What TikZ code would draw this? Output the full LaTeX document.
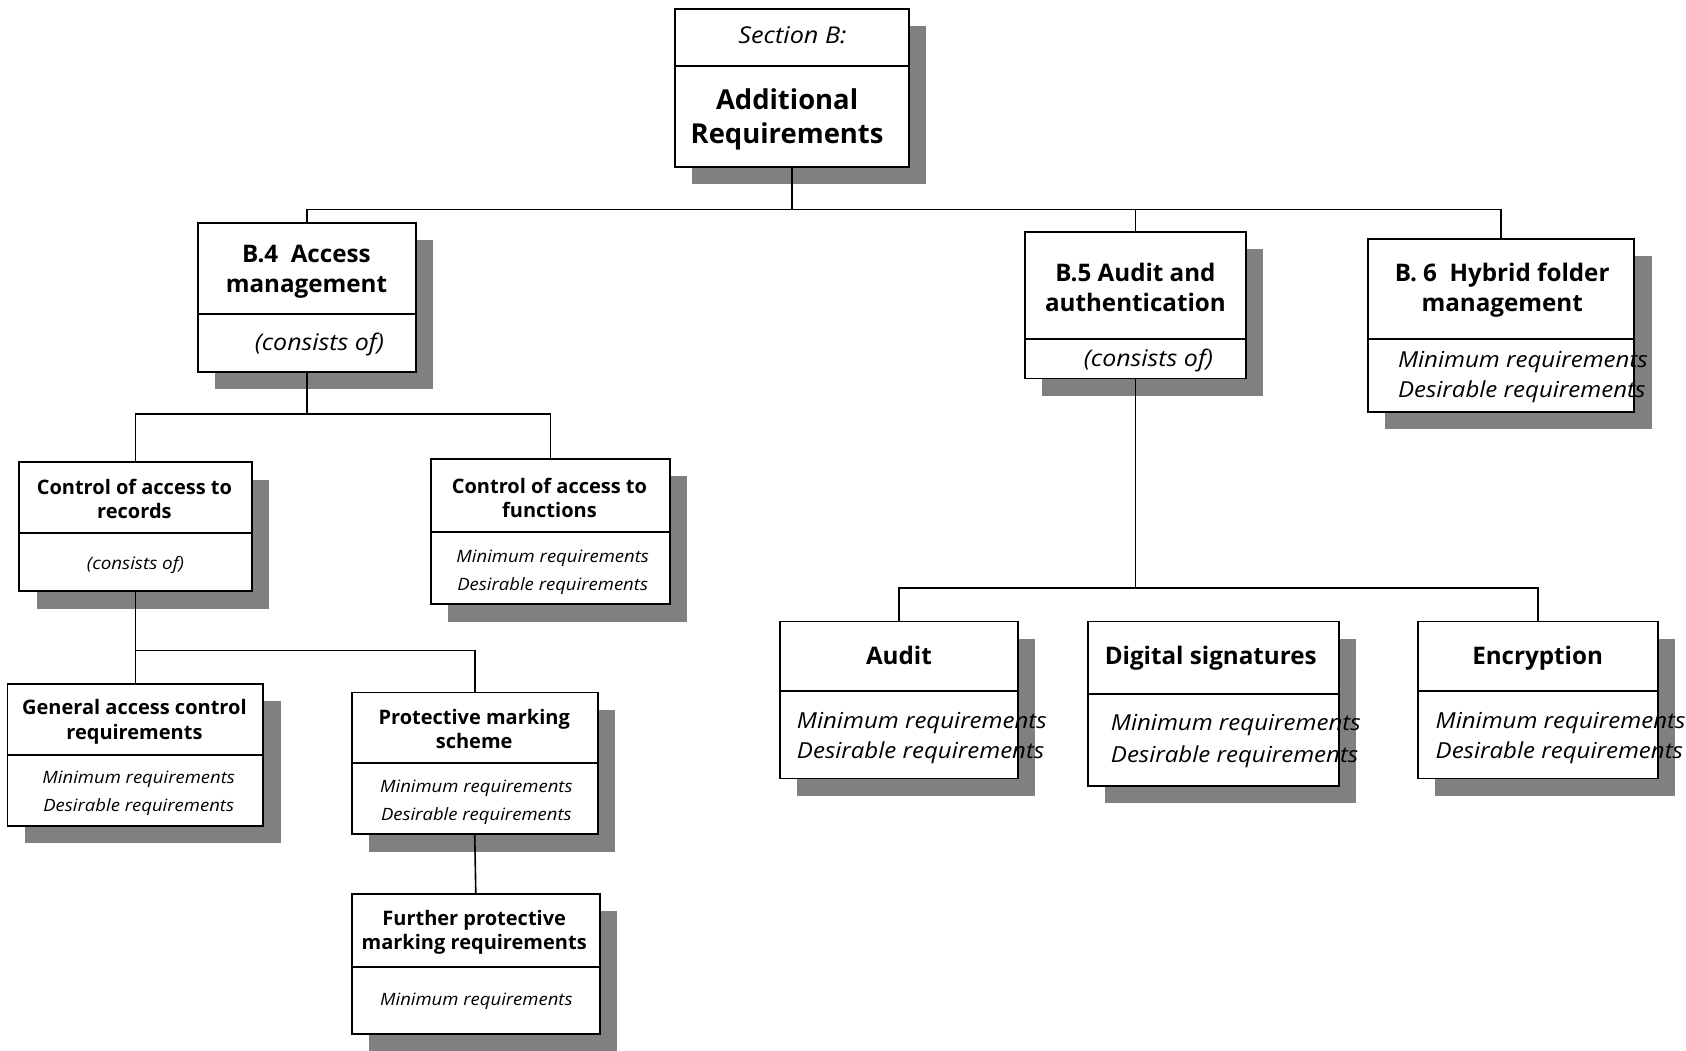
\documentclass[tikz,border=0pt]{standalone}
\usepackage{fontspec}
\setmainfont{Open Sans}[ItalicFeatures={FakeStretch=1.09}]
\usetikzlibrary{shadows}
\definecolor{shade}{RGB}{128,128,128}
\newcommand\fsz[2]{\fontsize{#1}{#2}\selectfont}
% box with a horizontal rule: name, x1, y1, x2, y2, y of the rule
\newcommand\rbox[6]{%
  \node[rbox, minimum width={#4-#2}, minimum height={#5-#3}] (#1) at ({(#2+#4)/2},{(#3+#5)/2}) {};
  \draw[rule] (#2,#6) -- (#4,#6);}
\begin{document}
\begin{tikzpicture}[x=1pt,y=-1pt,
  rbox/.style={draw, fill=white, line width=1.8pt, inner sep=0pt, outer sep=0pt,
    drop shadow={shadow xshift=16pt, shadow yshift=-16pt, fill=shade, opacity=1}},
  rule/.style={line width=1.8pt},
  conn/.style={line width=1.5pt},
  txt/.style={inner sep=0pt, align=center},
  one/.style={inner sep=0pt, text height=0.75em, text depth=0.22em},
  bigt/.style={txt, font=\bfseries\fsz{22.5}{28}},
  smallt/.style={txt, font=\bfseries\fsz{18.6}{23}},
  bigi/.style={txt, align=left, font=\itshape\fsz{20.5}{28}},
  smalli/.style={txt, font=\itshape\fsz{15.8}{26}}
]
\useasboundingbox (0,0) rectangle (1568,977);

% boxes
\rbox{top}{628}{8}{845}{155}{61}
\rbox{b4}{184}{207}{387}{346}{292}
\rbox{b5}{953}{216}{1159}{352}{315}
\rbox{b6}{1272}{222}{1520}{383}{315}
\rbox{car}{18}{430}{234}{550}{496}
\rbox{caf}{401}{427}{623}{562}{495}
\rbox{gac}{7}{636}{245}{768}{702}
\rbox{pms}{327}{644}{556}{776}{710}
\rbox{fpm}{327}{831}{558}{962}{899}
\rbox{aud}{725}{578}{947}{724}{643}
\rbox{dig}{1012}{578}{1245}{731}{645}
\rbox{enc}{1319}{578}{1542}{724}{643}

% top box
\node[one, font=\itshape\fsz{21.5}{26}] (topa) at (737,38) {Section B:};
\node[txt, font=\bfseries\fsz{25.5}{32}] (topb) at (732,111) {Additional\\Requirements};

% section boxes
\node[bigt] (b4a) at (285,253) {B.4\ \ Access\\management};
\node[one, font=\itshape\fsz{21.3}{26}] (b4b) at (297,323) {(consists of)};
\node[bigt] (b5a) at (1056,267) {B.5 Audit and\\authentication};
\node[one, font=\itshape\fsz{21.3}{26}] (b5b) at (1068,338) {(consists of)};
\node[bigt] (b6a) at (1397,270) {B. 6\ \ Hybrid folder\\management};
\node[bigi, anchor=west] (b6b) at (1300,351) {Minimum requirements\\Desirable requirements};

% access management parts
\node[smallt] (cara) at (125,464) {Control of access to\\records};
\node[one, font=\itshape\fsz{16}{20}] (carb) at (126,527) {(consists of)};
\node[smallt] (cafa) at (511,463) {Control of access to\\functions};
\node[smalli] (cafb) at (514,532) {Minimum requirements\\Desirable requirements};
\node[smallt] (gaca) at (125,671) {General access control\\requirements};
\node[smalli] (gacb) at (129,738) {Minimum requirements\\Desirable requirements};
\node[smallt] (pmsa) at (441,678) {Protective marking\\scheme};
\node[smalli] (pmsb) at (443,746) {Minimum requirements\\Desirable requirements};
\node[smallt] (fpma) at (441,867) {Further protective\\marking requirements};
\node[one, font=\itshape\fsz{15.8}{20}] (fpmb) at (443,932) {Minimum requirements};

% audit and authentication parts
\node[one, font=\bfseries\fsz{22.5}{28}] (auda) at (836,615) {Audit};
\node[bigi, anchor=west] (audb) at (741,686) {Minimum requirements\\Desirable requirements};
\node[one, font=\bfseries\fsz{22.5}{28}] (diga) at (1126,615) {Digital signatures};
\node[bigi, anchor=west, font=\itshape\fsz{20.5}{30}] (digb) at (1033,689) {Minimum requirements\\Desirable requirements};
\node[one, font=\bfseries\fsz{22.5}{28}] (enca) at (1430,615) {Encryption};
\node[bigi, anchor=west] (encb) at (1335,686) {Minimum requirements\\Desirable requirements};

% connectors
\path (top.south) ++(0,40) coordinate (j1);
\draw[conn] (top.south) -- (j1);
\draw[conn] (b4.north) |- (j1);
\draw[conn] (b5.north) |- (j1);
\draw[conn] (b6.north) |- (j1);

\path (b4.south) ++(0,39) coordinate (j2);
\draw[conn] (b4.south) -- (j2);
\draw[conn] (car.north) |- (j2);
\draw[conn] (caf.north) |- (j2);

\path (car.south) ++(0,55) coordinate (j3);
\draw[conn] (car.south) -- (j3);
\draw[conn] (gac.north) |- (j3);
\draw[conn] (pms.north) |- (j3);
\draw[conn] (pms.south) -- (fpm.north);

\path (b5.south) ++(0,195) coordinate (j4);
\draw[conn] (b5.south) -- (j4);
\draw[conn] (aud.north) |- (j4);
\draw[conn] (enc.north) |- (j4);
\end{tikzpicture}
\end{document}
